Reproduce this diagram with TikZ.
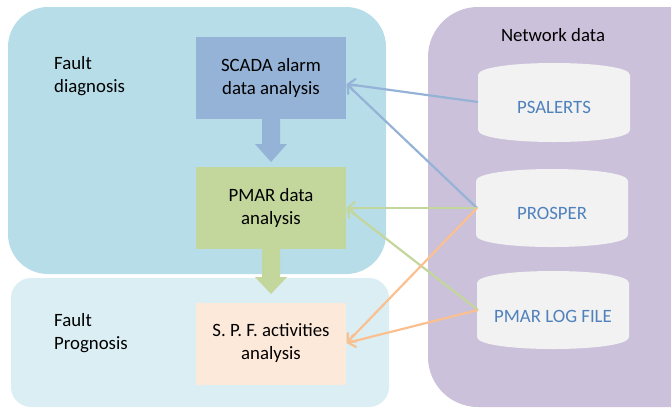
\documentclass[tikz,border=0pt]{standalone}
\usepackage{fontspec}
\setmainfont{Carlito}
\usetikzlibrary{arrows.meta}
\definecolor{diagbg}{HTML}{B7DDE8}
\definecolor{progbg}{HTML}{DBEEF3}
\definecolor{netbg}{HTML}{CCC1DA}
\definecolor{scadac}{HTML}{95B3D7}
\definecolor{pmarc}{HTML}{C3D69B}
\definecolor{spfc}{HTML}{FDE9D9}
\definecolor{orangel}{HTML}{FAC090}
\definecolor{cylc}{HTML}{F2F2F2}
\definecolor{cyltext}{HTML}{4F81BD}
\tikzset{
  procbox/.style={minimum width=150pt, minimum height=82pt, align=center, inner sep=0pt, font=\fontsize{18.8}{23}\selectfont},
  lbl/.style={align=left, anchor=west, inner sep=0pt, font=\fontsize{18.8}{23}\selectfont},
  cyllbl/.style={minimum width=152pt, minimum height=20pt, inner sep=0pt, text=cyltext, font=\fontsize{18.8}{22}\selectfont},
  conn/.style={line width=2.2pt, -{Straight Barb[length=7pt,width=13pt,line width=2.2pt]}},
}
\newcommand{\cyl}[4]{% x1 x2 ytop ybottom
  \fill[cylc] (#1,#3+12) .. controls (#1,#3-4) and (#2,#3-4) .. (#2,#3+12) -- (#2,#4-12)
    .. controls (#2,#4+4) and (#1,#4+4) .. (#1,#4-12) -- cycle;}
\begin{document}
\begin{tikzpicture}[x=1pt,y=-1pt]
\useasboundingbox (0,0) rectangle (671,408);
% regions
\fill[diagbg, rounded corners=40pt] (8,7) rectangle (386,274);
\fill[progbg, rounded corners=20pt] (11,278) rectangle (389,407);
\fill[netbg, rounded corners=50pt] (428,7) rectangle (720,407);
% labels
\node[lbl] (fd) at (54,76) {Fault\\diagnosis};
\node[lbl] (fp) at (54,333) {Fault\\Prognosis};
\node[font=\fontsize{18.8}{22}\selectfont, inner sep=0pt] (nd) at (553,35) {Network data};
% process boxes
\node[procbox, fill=scadac] (scada) at (271,78) {SCADA alarm\\data analysis};
\node[procbox, fill=pmarc] (pmar) at (271,208) {PMAR data\\analysis};
\node[procbox, fill=spfc] (spf) at (271,343.5) {S. P. F. activities\\analysis};
% block arrows
\fill[scadac] (262,119) -- (280,119) -- (280,144) -- (287,144) -- (271,162) -- (255,144) -- (262,144) -- cycle;
\fill[pmarc] (262,249) -- (280,249) -- (280,277) -- (287,277) -- (271,294) -- (255,277) -- (262,277) -- cycle;
% cylinders
\cyl{478}{630}{63}{142}
\node[cyllbl] (ps) at (554,107) {PSALERTS};
\cyl{476}{628}{169}{247}
\node[cyllbl] (pr) at (552,213) {PROSPER};
\cyl{477}{629}{271}{349}
\node[cyllbl] (pl) at (553,316) {PMAR LOG FILE};
% connector targets
\coordinate (scadain) at (346.5,84);
\coordinate (pmarin) at (346.5,208);
\coordinate (spfin) at (346.5,343);
\coordinate (prout) at (477,208);
\coordinate (psout) at (478,102);
\coordinate (plout) at (478,310);
% connectors
\draw[conn, scadac] (psout) -- (scadain);
\draw[conn, scadac] (prout) -- (scadain);
\draw[conn, pmarc] (prout) -- (pmarin);
\draw[conn, pmarc] (plout) -- (pmarin);
\draw[conn, orangel] (prout) -- (spfin);
\draw[conn, orangel] (plout) -- (spfin);
\end{tikzpicture}
\end{document}
